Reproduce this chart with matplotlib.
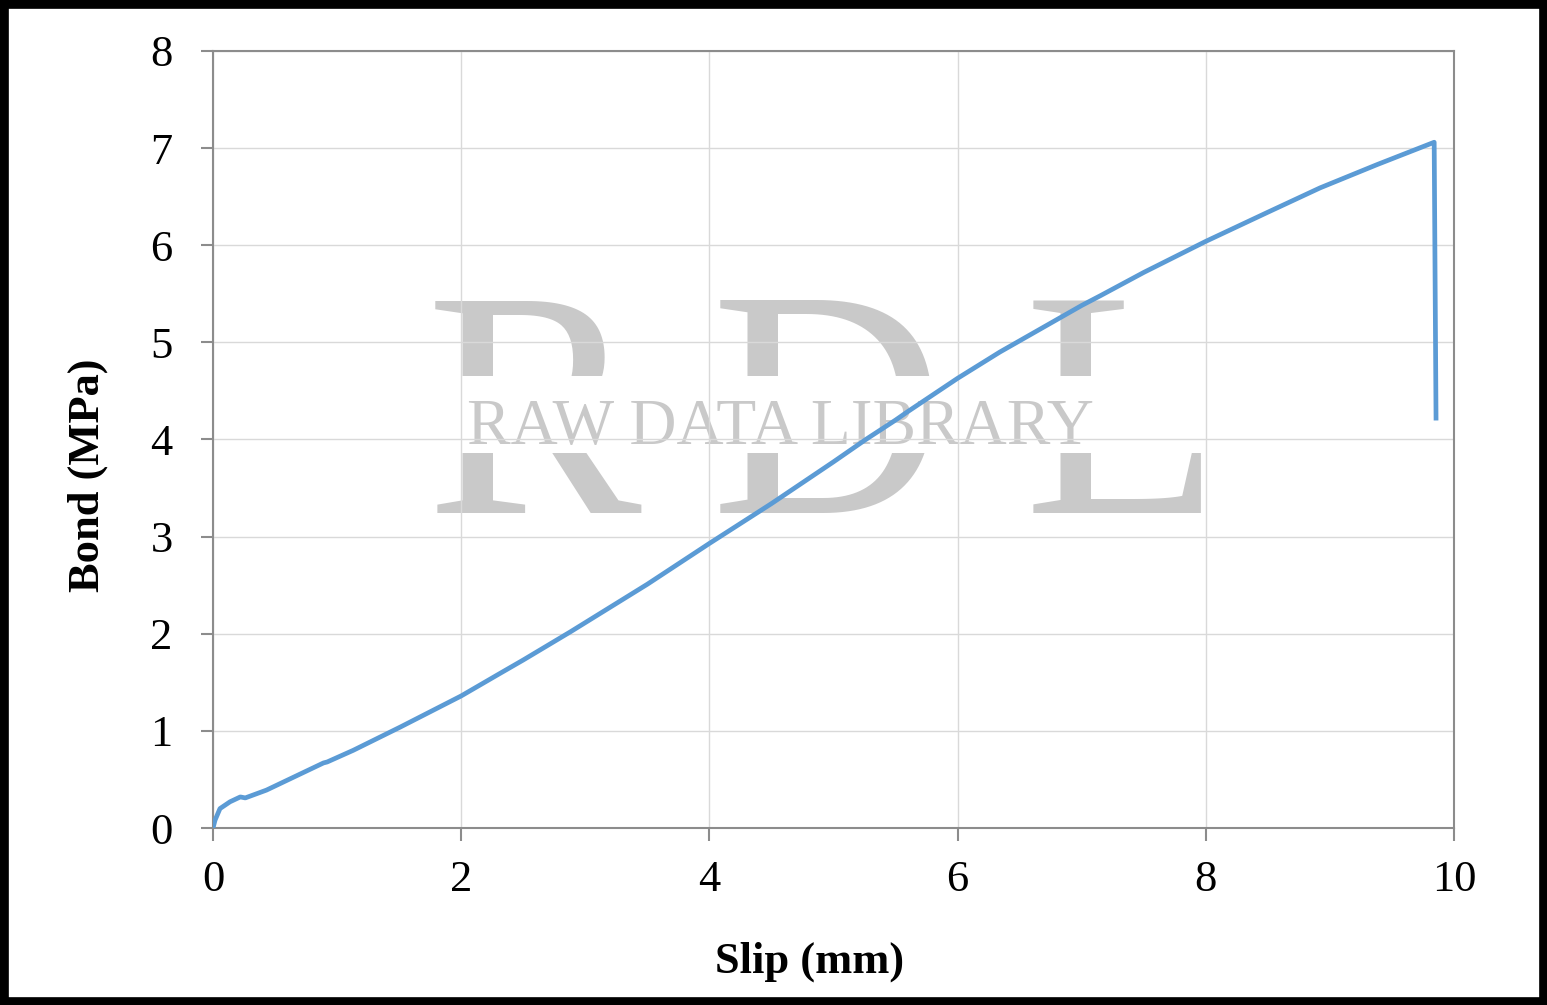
import matplotlib.pyplot as plt
from matplotlib.patches import Rectangle

# bond-slip curve
slip = [0, 0.016, 0.056, 0.137, 0.22, 0.26, 0.43, 0.89, 0.92, 1.13, 1.51, 2.0, 2.31,
        2.5, 2.88, 3.5, 4.0, 4.5, 5.0, 5.26, 5.5, 5.59, 6.0, 6.34, 7.0, 7.15, 7.5,
        8.0, 8.5, 8.92, 9.38, 9.84, 9.855]
bond = [0, 0.08, 0.2, 0.27, 0.32, 0.31, 0.39, 0.67, 0.68, 0.80, 1.04, 1.36, 1.59,
        1.73, 2.02, 2.51, 2.93, 3.34, 3.77, 4.00, 4.20, 4.28, 4.63, 4.90, 5.38, 5.48,
        5.72, 6.04, 6.34, 6.59, 6.83, 7.06, 4.22]

x_ticks = [0, 2, 4, 6, 8, 10]
y_ticks = [0, 1, 2, 3, 4, 5, 6, 7, 8]

plt.rcParams["font.family"] = ["Liberation Serif", "DejaVu Serif"]

fig = plt.figure(figsize=(15.47, 10.05), dpi=100)
ax = fig.add_axes([0.1377, 0.1761, 0.8022, 0.7732])

grey = "#8c8c8c"
wm = "#c9c9c9"

# watermark
for letter, xpos in [("R", 0.258), ("D", 0.495), ("L", 0.733)]:
    ax.text(xpos, 0.406, letter, transform=ax.transAxes, ha="center", va="baseline",
            fontsize=233, color=wm, zorder=0.6)
ax.add_patch(Rectangle((0.17, 0.482), 0.66, 0.1, transform=ax.transAxes,
                       facecolor="white", edgecolor="none", zorder=0.7))
ax.text(0.457, 0.494, "RAW DATA LIBRARY", transform=ax.transAxes, ha="center",
        va="baseline", fontsize=47, color=wm, zorder=0.8)

ax.plot(slip, bond, color="#5b9bd5", lw=3.4, zorder=3, solid_joinstyle="round")

ax.set_xlim(0, 10)
ax.set_ylim(0, 8)
ax.set_xticks(x_ticks)
ax.set_yticks(y_ticks)
ax.grid(True, color="#d9d9d9", lw=1, zorder=1)
for s in ax.spines.values():
    s.set_color(grey)
    s.set_linewidth(1.5)
ax.tick_params(axis="both", direction="out", length=9, width=1.5, color=grey,
               labelsize=32, pad=14)
ax.tick_params(axis="y", pad=20)

ax.set_xlabel("Slip (mm)", fontsize=32, fontweight="bold")
ax.set_ylabel("Bond (MPa)", fontsize=32, fontweight="bold")
ax.xaxis.set_label_coords(0.481, -0.172)
ax.yaxis.set_label_coords(-0.1007, 0.454)
ax.xaxis.label.set_va("center")
ax.yaxis.label.set_va("center")

fig.patches.append(Rectangle((0, 0), 1, 1, transform=fig.transFigure, fill=False,
                             edgecolor="black", lw=12, joinstyle="round"))

fig.savefig("out.png", dpi=100)
